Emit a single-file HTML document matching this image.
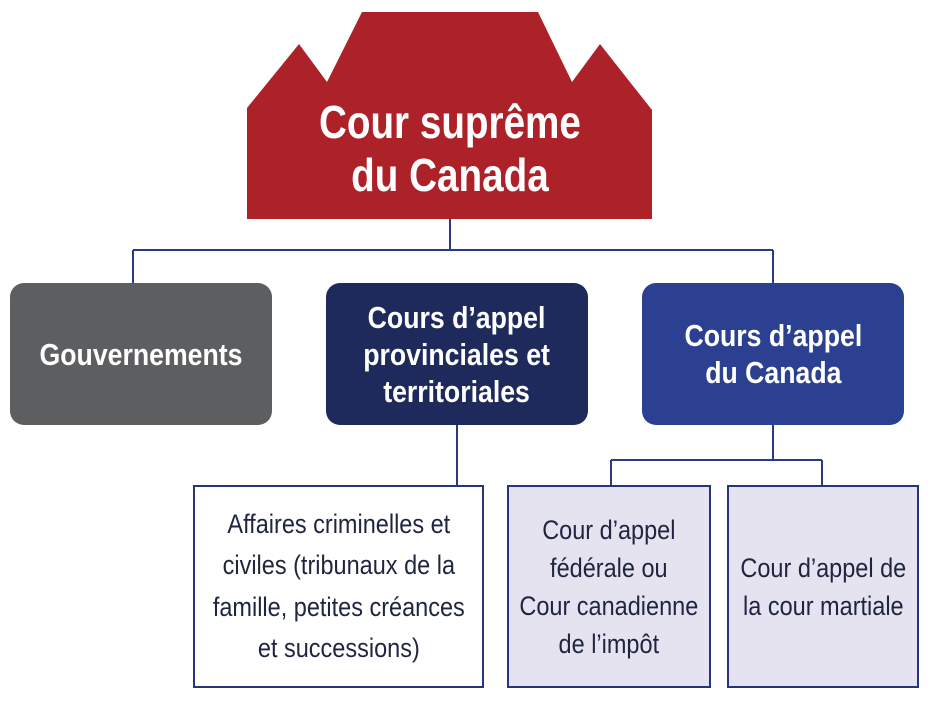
<!DOCTYPE html>
<html><head><meta charset="utf-8"><style>
body{margin:0;width:935px;height:701px;background:#fff;position:relative;overflow:hidden;font-family:"Liberation Sans",sans-serif}
.b{position:absolute;display:flex;align-items:center;justify-content:center;text-align:center;box-sizing:border-box}
.b span{display:inline-block;white-space:nowrap}
.m{color:#fff;font-weight:bold;font-size:31px;line-height:37px;border-radius:14px}
.m span{transform:scaleX(0.86)}
.s{border:2px solid #27357a;color:#1f2540;font-size:27px;line-height:38px}
.s span{transform:scaleX(0.87)}
</style></head><body>
<svg width="935" height="701" style="position:absolute;left:0;top:0">
<polygon points="247,108 299,44 327,82 362,12 538,12 572,82 600,44 652,110 652,219 247,219" fill="#ad2229"/>
<g stroke="#2b3a86" stroke-width="2" fill="none">
<path d="M450,219V250M133,250H773M133,250V283M773,250V283M457,425V485M773,425V460M611,460H822M611,460V485M822,460V485"/>
</g>
</svg>
<div class="b" style="left:247px;top:96px;width:405px;height:106px;color:#fff;font-weight:bold;font-size:46px;line-height:53px"><span style="transform:scaleX(0.84)">Cour suprême<br>du Canada</span></div>
<div class="b m" style="left:10px;top:283px;width:262px;height:142px;background:#5d5e60"><span>Gouvernements</span></div>
<div class="b m" style="left:326px;top:283px;width:262px;height:142px;background:#1f2a5c"><span>Cours d’appel<br>provinciales et<br>territoriales</span></div>
<div class="b m" style="left:642px;top:283px;width:262px;height:142px;background:#2b4090"><span>Cours d’appel<br>du Canada</span></div>
<div class="b s" style="left:193px;top:485px;width:291px;height:203px;background:#fff;line-height:41.5px"><span>Affaires criminelles et<br>civiles (tribunaux de la<br>famille, petites créances<br>et successions)</span></div>
<div class="b s" style="left:507px;top:485px;width:204px;height:203px;background:#e4e3ef"><span>Cour d’appel<br>fédérale ou<br>Cour canadienne<br>de l’impôt</span></div>
<div class="b s" style="left:727px;top:485px;width:192px;height:203px;background:#e4e3ef"><span>Cour d’appel de<br>la cour martiale</span></div>
</body></html>
